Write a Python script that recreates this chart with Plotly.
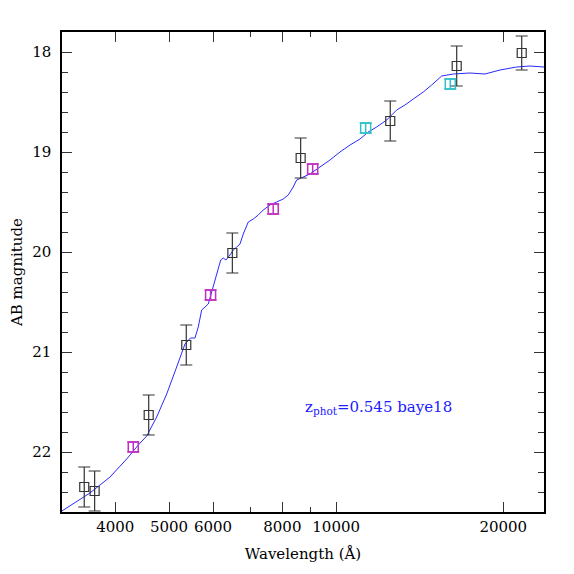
import plotly.graph_objects as go

# observed photometry (black squares with errors)
obs_wave = [3517, 3672, 4595, 5370, 6501, 8630, 12515, 16487, 21590]
obs_mag = [22.35, 22.39, 21.63, 20.93, 20.01, 19.06, 18.69, 18.14, 18.01]
obs_err = [0.20, 0.20, 0.20, 0.20, 0.20, 0.20, 0.20, 0.20, 0.17]

# model magnitudes in the filters
mod_wave_opt = [4310, 5940, 7702, 9072]
mod_mag_opt = [21.95, 20.43, 19.57, 19.17]
mod_wave_nir = [11302, 16055]
mod_mag_nir = [18.76, 18.32]

# best-fit template
sed_wave = [3206, 3360, 3601, 3914, 4194, 4401, 4557, 4750, 4951, 5160,
            5341, 5464, 5567, 5644, 5724, 5803, 5883, 5967, 6049, 6133,
            6194, 6261, 6331, 6437, 6526, 6619, 6710, 6802, 6945, 7090,
            7239, 7390, 7598, 7812, 8029, 8197, 8369, 8487, 8723, 8969,
            9349, 9746, 10159, 10590, 11040, 11424, 11829, 12331, 12853, 13303,
            13769, 14353, 14862, 15491, 16254, 17420, 18539, 19729, 21149, 22344,
            23675]
sed_mag = [22.59, 22.52, 22.41, 22.25, 22.07, 21.93, 21.84, 21.65, 21.42, 21.15,
           20.92, 20.86, 20.86, 20.75, 20.58, 20.55, 20.52, 20.40, 20.28, 20.18,
           20.08, 20.06, 20.08, 20.03, 19.98, 19.95, 19.92, 19.82, 19.70, 19.67,
           19.63, 19.58, 19.53, 19.50, 19.47, 19.43, 19.35, 19.28, 19.25, 19.22,
           19.15, 19.08, 19.00, 18.93, 18.87, 18.80, 18.75, 18.68, 18.58, 18.53,
           18.47, 18.40, 18.33, 18.24, 18.22, 18.21, 18.22, 18.18, 18.15, 18.14,
           18.15]

x_ticks = [4000, 5000, 6000, 8000, 10000, 20000]
y_ticks = [18, 19, 20, 21, 22]

FONT = "DejaVu Serif"
INK = "#333333"

fig = go.Figure()

fig.add_trace(go.Scatter(
    x=sed_wave, y=sed_mag, mode="lines",
    line={"color": "#2a2aff", "width": 1},
))

fig.add_trace(go.Scatter(
    x=obs_wave, y=obs_mag, mode="markers",
    marker={"symbol": "square-open", "size": 9, "color": INK,
            "line": {"width": 1.2, "color": INK}},
    error_y={"type": "data", "array": obs_err, "color": INK,
             "thickness": 1.2, "width": 6},
))

for waves, mags, col in [(mod_wave_opt, mod_mag_opt, "#c030c0"),
                         (mod_wave_nir, mod_mag_nir, "#30c0c8")]:
    fig.add_trace(go.Scatter(
        x=waves, y=mags, mode="markers",
        marker={"symbol": "square-open", "size": 10, "color": col,
                "line": {"width": 1.5, "color": col}},
        error_y={"type": "data", "array": [0.05] * len(waves), "color": col,
                 "thickness": 1.5, "width": 6},
    ))

# log axis: annotation x is given in log10 units
fig.add_annotation(
    x=3.940, y=21.55, xref="x", yref="y",
    xanchor="left", yanchor="middle", showarrow=False,
    text="z<sub>phot</sub>=0.545 baye18",
    font={"family": FONT, "size": 15, "color": "#2020ff"},
)

axis_common = dict(
    showline=True, linecolor="black", linewidth=1.5, mirror="ticks",
    ticks="inside", tickcolor=INK, tickwidth=1.2, ticklen=10,
    showgrid=False, zeroline=False, automargin=False,
    tickfont={"family": FONT, "size": 15, "color": "black"},
)

fig.update_xaxes(
    type="log", range=[3.5061, 4.3744],
    tickvals=x_ticks, ticktext=[str(v) for v in x_ticks],
    minor={"tickvals": [7000, 9000], "ticks": "inside", "ticklen": 5,
           "tickcolor": INK, "tickwidth": 1.2},
    title={"text": "Wavelength (Å)",
           "font": {"family": FONT, "size": 15, "color": "black"},
           "standoff": 14},
    **axis_common,
)
fig.update_yaxes(
    range=[22.6, 17.8],
    tickvals=y_ticks,
    minor={"dtick": 0.2, "ticks": "inside", "ticklen": 6,
           "tickcolor": INK, "tickwidth": 1.2},
    ticklabelstandoff=6,
    title={"text": "AB magnitude",
           "font": {"family": FONT, "size": 15, "color": "black"},
           "standoff": 8},
    **axis_common,
)

# the page adds an 8px body margin, so margins are offset by it
fig.update_layout(
    width=574, height=574,
    margin={"l": 54, "r": 38, "t": 24, "b": 70},
    showlegend=False,
    plot_bgcolor="white", paper_bgcolor="white",
    font={"family": FONT, "color": "black"},
)

fig.write_html("out.html")
